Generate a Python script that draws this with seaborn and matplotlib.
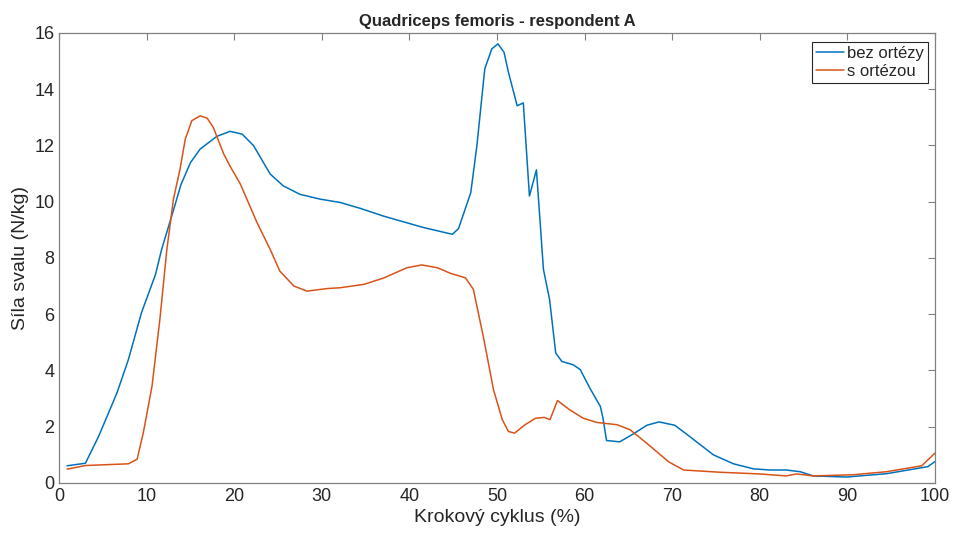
import numpy as np
import pandas as pd
import matplotlib
matplotlib.use("Agg")
import matplotlib.pyplot as plt
import seaborn as sns

# bez ortezy (without orthosis)
x_bez = [0.9, 3.0, 4.5, 6.6, 7.9, 9.4, 11.0, 11.7, 13.2, 13.9, 15.0, 16.1, 18.0, 19.5,
         20.9, 22.2, 24.1, 25.6, 27.5, 29.8, 32.1, 34.4, 37.0, 41.6, 44.9, 45.6, 47.0,
         47.7, 48.6, 49.4, 50.1, 50.8, 51.3, 52.3, 53.0, 53.7, 54.5, 55.3, 56.0, 56.7,
         57.4, 58.7, 59.5, 60.6, 61.8, 62.1, 62.5, 64.0, 65.6, 67.1, 68.5, 70.3, 72.0,
         74.7, 77.0, 79.3, 81.2, 83.0, 84.6, 86.1, 89.9, 94.5, 99.2, 100.0]
y_bez = [0.61, 0.70, 1.65, 3.2, 4.38, 6.05, 7.41, 8.3, 9.85, 10.6, 11.39, 11.87, 12.32, 12.5,
         12.4, 11.99, 10.98, 10.56, 10.26, 10.09, 9.97, 9.76, 9.49, 9.08, 8.84, 9.04, 10.32,
         11.99, 14.72, 15.43, 15.61, 15.31, 14.6, 13.41, 13.51, 10.2, 11.13, 7.59, 6.52, 4.62,
         4.32, 4.2, 4.03, 3.37, 2.72, 2.3, 1.51, 1.46, 1.75, 2.05, 2.17, 2.05, 1.65,
         1.0, 0.68, 0.50, 0.46, 0.46, 0.40, 0.25, 0.21, 0.33, 0.58, 0.76]

# s ortezou (with orthosis)
x_s = [0.9, 3.0, 7.9, 8.9, 9.6, 10.6, 11.5, 12.3, 13.05, 13.8, 14.4, 15.15, 16.1, 16.9,
       17.6, 18.8, 19.5, 20.7, 22.6, 24.1, 25.2, 26.8, 28.3, 30.6, 32.1, 34.8, 37.1,
       39.7, 41.4, 43.2, 44.7, 46.4, 47.3, 48.5, 49.6, 50.6, 51.3, 52.0, 53.2, 54.4,
       55.4, 56.05, 56.9, 58.3, 59.85, 61.4, 63.7, 65.2, 67.1, 69.6, 71.3, 75.5, 80.0,
       83.0, 84.2, 86.1, 90.6, 94.5, 98.5, 100.0]
y_s = [0.49, 0.62, 0.68, 0.84, 1.77, 3.43, 5.81, 8.3, 10.09, 11.15, 12.22, 12.88, 13.05, 12.97,
       12.64, 11.69, 11.27, 10.62, 9.25, 8.3, 7.53, 7.0, 6.82, 6.91, 6.94, 7.06, 7.29,
       7.65, 7.75, 7.65, 7.45, 7.29, 6.88, 5.10, 3.31, 2.25, 1.83, 1.77, 2.07, 2.30,
       2.33, 2.25, 2.93, 2.6, 2.3, 2.15, 2.07, 1.89, 1.41, 0.75, 0.46, 0.38, 0.32,
       0.25, 0.32, 0.25, 0.29, 0.40, 0.61, 1.06]

labels = ["bez ortézy", "s ortézou"]
colors = ["#0072BD", "#D95319"]

df = pd.concat([
    pd.DataFrame({"x": x_bez, "y": y_bez, "serie": labels[0]}),
    pd.DataFrame({"x": x_s, "y": y_s, "serie": labels[1]}),
])

sns.set_style("white")
plt.rcParams["font.family"] = ["Liberation Sans", "DejaVu Sans"]

fig = plt.figure(figsize=(9.54, 5.39), dpi=100)
ax = fig.add_axes([0.062, 0.104, 0.918, 0.835])

sns.lineplot(data=df, x="x", y="y", hue="serie", palette=colors, sort=False,
             estimator=None, linewidth=1.1, ax=ax)

ax.set_xlim(0, 100)
ax.set_ylim(0, 16)
ax.set_xticks(np.arange(0, 101, 10))
ax.set_yticks(np.arange(0, 17, 2))
ax.tick_params(direction="in", top=True, right=True, length=5, width=0.8,
               color="#808080", labelsize=13, labelcolor="#262626")
for s in ax.spines.values():
    s.set_color("#808080")
    s.set_linewidth(0.9)

ax.set_title("Quadriceps femoris - respondent A", fontsize=12, fontweight="bold", pad=5)
ax.set_xlabel("Krokový cyklus (%)", fontsize=14, color="#262626", labelpad=3)
ax.set_ylabel("Síla svalu (N/kg)", fontsize=14, color="#262626")

leg = ax.legend(loc="upper right", fontsize=12, fancybox=False, framealpha=1,
                edgecolor="#262626", handlelength=1.7, borderpad=0.25, labelspacing=0.15,
                handletextpad=0.15, borderaxespad=0, bbox_to_anchor=(0.992, 0.98))
leg.get_frame().set_linewidth(0.8)
for t in leg.get_texts():
    t.set_color("#262626")

fig.savefig("out.png", dpi=100)
